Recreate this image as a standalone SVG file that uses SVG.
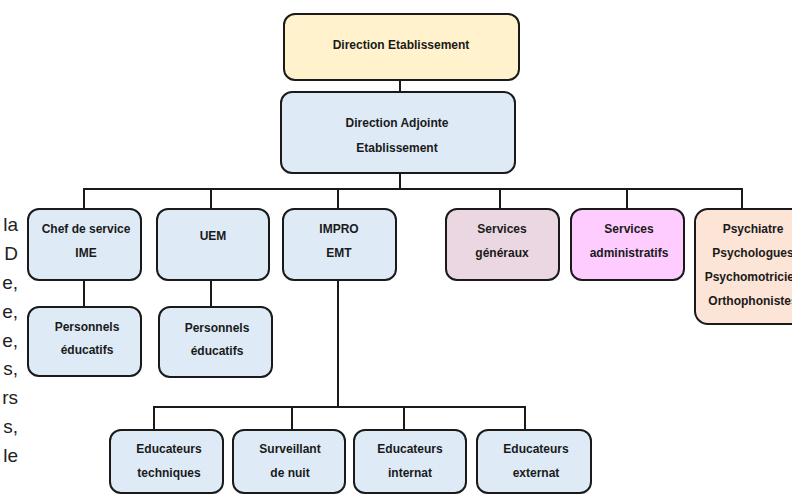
<svg xmlns="http://www.w3.org/2000/svg" width="792" height="495" viewBox="0 0 792 495">
<style>
.b{stroke:#1a1a1a;stroke-width:2;}
.blue{fill:#DEEBF7;}
.t{font-family:"Liberation Sans Narrow","Liberation Sans",Arial,sans-serif;font-weight:bold;font-size:12px;fill:#1a1a1a;text-anchor:middle;font-stretch:condensed;}
.c{fill:none;stroke:#1a1a1a;stroke-width:2;}
.side{font-family:"Liberation Sans",Arial,sans-serif;font-size:19px;fill:#222;text-anchor:end;}
</style>
<rect width="792" height="495" fill="#ffffff"/>
<g id="side-text">
<text class="side" x="18" y="231">la</text>
<text class="side" x="18" y="260">D</text>
<text class="side" x="18" y="289">e,</text>
<text class="side" x="18" y="318">e,</text>
<text class="side" x="18" y="347">e,</text>
<text class="side" x="18" y="375">s,</text>
<text class="side" x="18" y="404">rs</text>
<text class="side" x="18" y="433">s,</text>
<text class="side" x="18" y="462">le</text>
</g>
<g id="connectors">
<path class="c" d="M400 80V92"/>
<path class="c" d="M400 173V189"/>
<path class="c" d="M84 209V189H742V209"/>
<path class="c" d="M211 189V209"/>
<path class="c" d="M338 189V209"/>
<path class="c" d="M500 189V209"/>
<path class="c" d="M627 189V209"/>
<path class="c" d="M84 280V307"/>
<path class="c" d="M211 280V307"/>
<path class="c" d="M338 280V407"/>
<path class="c" d="M154 430V407H525V430"/>
<path class="c" d="M292 407V430"/>
<path class="c" d="M404 407V430"/>
</g>
<g id="n-direction">
<rect class="b" x="284" y="14" width="235" height="66" rx="11" fill="#FFF2CC"/>
<text class="t" x="401" y="49">Direction Etablissement</text>
</g>
<g id="n-adjointe">
<rect class="b blue" x="281" y="92" width="234" height="81" rx="11"/>
<text class="t" x="397" y="127">Direction  Adjointe</text>
<text class="t" x="397" y="152">Etablissement</text>
</g>
<g id="n-chef">
<rect class="b blue" x="28" y="209" width="113" height="71" rx="11"/>
<text class="t" x="86" y="233">Chef de service</text>
<text class="t" x="86" y="257">IME</text>
</g>
<g id="n-uem">
<rect class="b blue" x="157" y="209" width="112" height="71" rx="11"/>
<text class="t" x="213" y="240">UEM</text>
</g>
<g id="n-impro">
<rect class="b blue" x="283" y="209" width="113" height="71" rx="11"/>
<text class="t" x="339" y="233">IMPRO</text>
<text class="t" x="339" y="257">EMT</text>
</g>
<g id="n-generaux">
<rect class="b" x="446" y="209" width="113" height="71" rx="11" fill="#EAD7E1"/>
<text class="t" x="502" y="233">Services</text>
<text class="t" x="502" y="257">généraux</text>
</g>
<g id="n-admin">
<rect class="b" x="571" y="209" width="113" height="71" rx="11" fill="#FFCCFF"/>
<text class="t" x="629" y="233">Services</text>
<text class="t" x="629" y="257">administratifs</text>
</g>
<g id="n-psy">
<rect class="b" x="695" y="209" width="116" height="115" rx="13" fill="#FCE4D6"/>
<text class="t" x="753" y="233">Psychiatre</text>
<text class="t" x="753" y="257">Psychologues</text>
<text class="t" x="753" y="281">Psychomotricien</text>
<text class="t" x="753" y="305">Orthophonistes</text>
</g>
<g id="n-perso1">
<rect class="b blue" x="28" y="307" width="113" height="69" rx="11"/>
<text class="t" x="87" y="331">Personnels</text>
<text class="t" x="87" y="354">éducatifs</text>
</g>
<g id="n-perso2">
<rect class="b blue" x="159" y="307" width="113" height="70" rx="11"/>
<text class="t" x="217" y="332">Personnels</text>
<text class="t" x="217" y="355">éducatifs</text>
</g>
<g id="n-edtech">
<rect class="b blue" x="110" y="430" width="113" height="63" rx="11"/>
<text class="t" x="169" y="453">Educateurs</text>
<text class="t" x="169" y="477">techniques</text>
</g>
<g id="n-surv">
<rect class="b blue" x="233" y="430" width="112" height="63" rx="11"/>
<text class="t" x="290" y="453">Surveillant</text>
<text class="t" x="290" y="477">de nuit</text>
</g>
<g id="n-edint">
<rect class="b blue" x="354" y="430" width="112" height="63" rx="11"/>
<text class="t" x="410" y="453">Educateurs</text>
<text class="t" x="410" y="477">internat</text>
</g>
<g id="n-edext">
<rect class="b blue" x="477" y="430" width="114" height="63" rx="11"/>
<text class="t" x="536" y="453">Educateurs</text>
<text class="t" x="536" y="477">externat</text>
</g>
</svg>
